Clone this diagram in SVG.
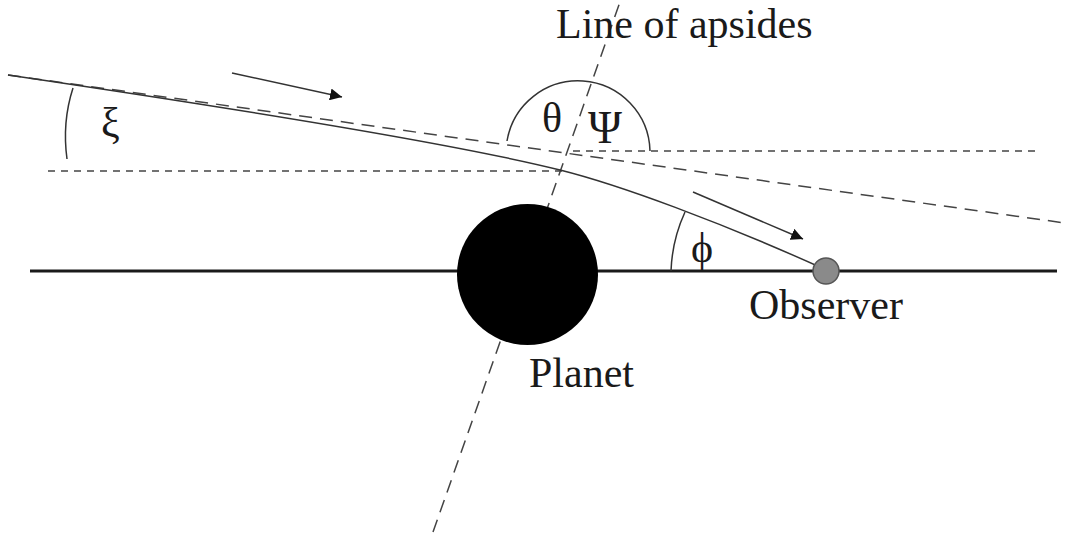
<svg xmlns="http://www.w3.org/2000/svg" width="1065" height="537" viewBox="0 0 1065 537">
<defs>
<style>
.lbl{font-family:"Liberation Serif","Times New Roman",serif;font-size:42px;fill:#1a1a1a}
.dash{fill:none;stroke:#444;stroke-width:1.5;stroke-dasharray:13 8}
.sdash{fill:none;stroke:#444;stroke-width:1.5;stroke-dasharray:7 6}
.thin{fill:none;stroke:#333;stroke-width:1.5}
</style>
<marker id="ah" viewBox="0 0 10 10" refX="10" refY="5" markerWidth="12" markerHeight="12" markerUnits="userSpaceOnUse" orient="auto">
<path d="M0,0 L10,5 L0,10 z" fill="#111"/>
</marker>
</defs>
<rect width="1065" height="537" fill="#fff"/>
<g id="connectors">
<line x1="30" y1="271" x2="1057" y2="271" stroke="#1a1a1a" stroke-width="3"/>
<line x1="433" y1="532" x2="620" y2="2" class="dash"/>
<line x1="8" y1="75" x2="1065" y2="223" class="dash"/>
<line x1="48" y1="171" x2="562" y2="171" class="sdash"/>
<line x1="573" y1="151" x2="1040" y2="151" class="sdash"/>
<path d="M8,75 C300,118 480,150 560,170 C620,185 720,222 822,268" class="thin"/>
<line x1="232" y1="73" x2="342" y2="97" class="thin" marker-end="url(#ah)"/>
<line x1="693" y1="192" x2="803" y2="239" class="thin" marker-end="url(#ah)"/>
<path d="M73,88 Q62,122 67,159" class="thin"/>
<path d="M507,141 A72,72 0 0 1 650,151" class="thin"/>
<path d="M671,271 A155,155 0 0 1 685,212" class="thin"/>
</g>
<g id="planet">
<circle cx="527.5" cy="274.5" r="70.5" fill="#000"/>
<text class="lbl" x="529" y="387">Planet</text>
</g>
<g id="observer">
<circle cx="826" cy="271" r="13" fill="#8a8a8a" stroke="#555" stroke-width="1.5"/>
<text class="lbl" x="749" y="319">Observer</text>
</g>
<g id="labels">
<text class="lbl" x="556" y="38">Line of apsides</text>
<text class="lbl" x="542" y="132">θ</text>
<text class="lbl" x="588" y="143" style="font-size:46px">Ψ</text>
<text class="lbl" x="101" y="137">ξ</text>
<text class="lbl" x="691" y="262">ϕ</text>
</g>
</svg>
